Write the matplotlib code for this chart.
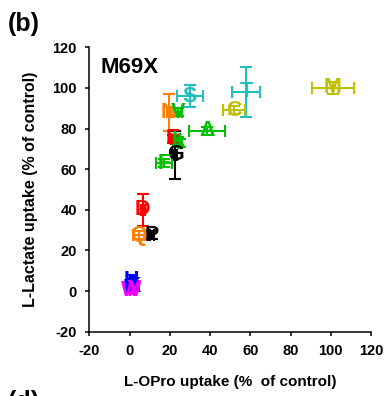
import matplotlib.pyplot as plt

plt.rcParams['font.family'] = 'Liberation Sans'
plt.rcParams['font.weight'] = 'bold'
plt.rcParams['axes.unicode_minus'] = False

# residue substituted at position 69
residues = ['M', 'T', 'C', 'S', 'N', 'V', 'A', 'E', 'L', 'I', 'G', 'F',
            'D', 'Q', 'P', 'H', 'K', 'R', 'W', 'Y']
opro = [101, 58, 52, 30, 19.5, 24, 38.5, 21.5, 24, 25, 22.7, 17,
        6.6, 4.5, 11, 1, 2, 0.5, 1, 2]
opro_err = [10.4, 7, 5.4, 6.6, 1, 2, 9, 1, 1, 1, 1, 4,
            1, 3, 1, 1, 1, 1, 1, 1]
lactate = [100, 98, 89, 96, 88, 88, 79, 75, 74, 73, 67, 63,
           40, 27.5, 27.5, 5, 2, 1.5, 0.5, 1]
lactate_err = [3, 12.5, 2, 5.3, 9, 2, 2, 2, 2, 2, 12, 2,
               8, 2, 2, 3, 1, 1, 1, 1]
colors = {'M': '#c0c000', 'C': '#c0c000', 'T': '#20c0c0', 'S': '#20c0c0',
          'N': '#ff8000', 'Q': '#ff8000', 'A': '#00c000', 'V': '#00c000',
          'I': '#00c000', 'L': '#00c000', 'F': '#00c000', 'D': '#ff0000',
          'E': '#ff0000', 'G': 'black', 'P': 'black', 'H': '#0000ff',
          'K': '#0000ff', 'R': '#0000ff', 'W': '#ff00ff', 'Y': '#ff00ff'}

fig = plt.figure(figsize=(3.86, 3.96), dpi=100)
ax = fig.add_axes([0.2314, 0.1624, 0.7297, 0.7182])

for r, x, xe, y, ye in zip(residues, opro, opro_err, lactate, lactate_err):
    c = colors[r]
    ax.errorbar(x, y, xerr=xe, yerr=ye, fmt='none', ecolor=c,
                elinewidth=1.5, capsize=4, capthick=1.5)
    ax.text(x, y, r, color=c, fontsize=15.5, fontweight='bold',
            ha='center', va='center')

ax.set_xlim(-20, 120)
ax.set_ylim(-20, 120)
ax.set_xticks(range(-20, 121, 20))
ax.set_yticks(range(-20, 121, 20))
ax.spines['top'].set_visible(False)
ax.spines['right'].set_visible(False)
for s in ['left', 'bottom']:
    ax.spines[s].set_linewidth(1.1)
ax.tick_params(direction='out', length=3, width=1.1, pad=6, labelsize=10.5)
for lab in ax.get_xticklabels() + ax.get_yticklabels():
    lab.set_fontweight('bold')

ax.set_xlabel('L-OPro uptake (%  of control)', fontsize=11,
              fontweight='bold', labelpad=12)
ax.set_ylabel('L-Lactate uptake (% of control)', fontsize=11.5,
              fontweight='bold', labelpad=10)
ax.text(0.04, 0.965, 'M69X', transform=ax.transAxes, fontsize=16,
        fontweight='bold', va='top', ha='left')

fig.text(0.02, 0.97, '(b)', fontsize=18, fontweight='bold', va='top')
fig.text(0.02, 0.014, '(d)', fontsize=18, fontweight='bold', va='top')

fig.savefig('out.png', dpi=100)
